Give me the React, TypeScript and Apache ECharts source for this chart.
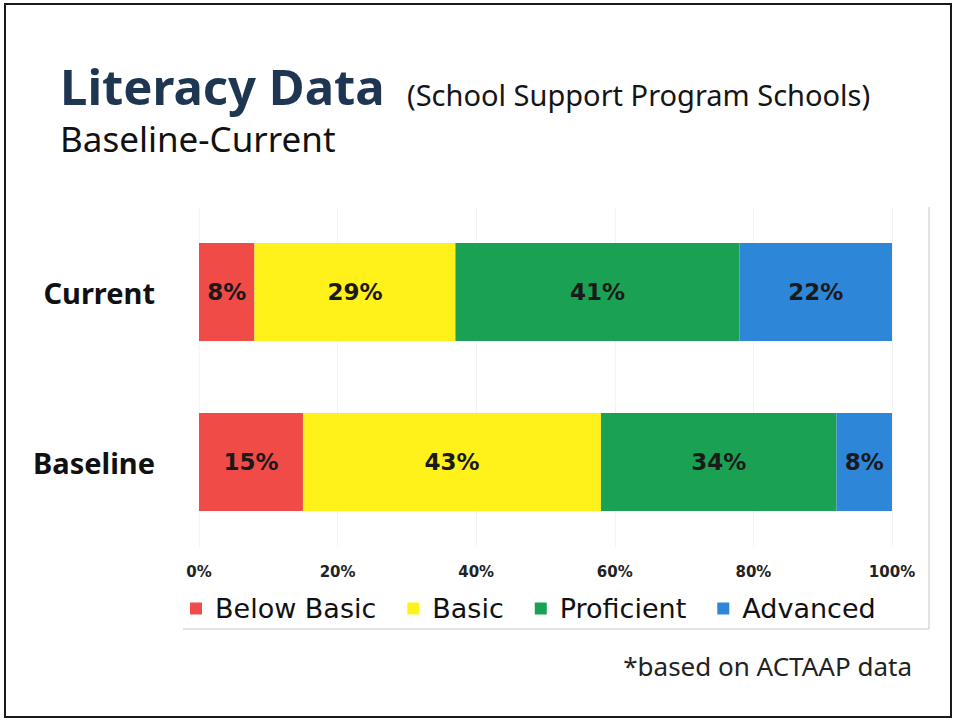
import React, { useEffect, useRef } from "react";
import * as echarts from "echarts";

const categories = ["Baseline", "Current"];
const seriesNames = ["Below Basic", "Basic", "Proficient", "Advanced"];
const belowBasic = [15, 8];
const basic = [43, 29];
const proficient = [34, 41];
const advanced = [8, 22];
const xTicks = [0, 20, 40, 60, 80, 100];

const colors = ["#f04b46", "#fff21a", "#1ba153", "#2e86d8"];

export default function App() {
  const ref = useRef<HTMLDivElement>(null);
  useEffect(() => {
    if (!ref.current) return;
    const chart = echarts.init(ref.current, null, { renderer: "svg" });
    const values = [belowBasic, basic, proficient, advanced];
    const labelFont = "DejaVu Sans";
    chart.setOption({
      animation: false,
      backgroundColor: "#ffffff",
      grid: { left: 199, right: 66, top: 207, bottom: 174 },
      xAxis: {
        type: "value",
        min: xTicks[0],
        max: xTicks[xTicks.length - 1],
        interval: 20,
        axisLine: { show: false },
        axisTick: { show: false },
        splitLine: { show: true, lineStyle: { color: "#f3f3f3" } },
        axisLabel: {
          formatter: "{value}%",
          fontFamily: labelFont,
          fontWeight: "bold",
          fontSize: 15,
          color: "#222",
          margin: 17,
        },
      },
      yAxis: {
        type: "category",
        data: categories,
        axisLine: { show: false },
        axisTick: { show: false },
        axisLabel: {
          fontFamily: "Noto Sans",
          fontWeight: "bold",
          fontSize: 29,
          color: "#111",
          margin: 44,
        },
      },
      legend: {
        left: 185,
        top: 590,
        itemWidth: 12,
        itemHeight: 12,
        itemGap: 31,
        icon: "rect",
        data: seriesNames,
        textStyle: { fontFamily: labelFont, fontSize: 27, color: "#111", padding: [0, 0, 0, 8] },
      },
      series: seriesNames.map((name, i) => ({
        name,
        type: "bar",
        stack: "total",
        barWidth: 98,
        data: values[i],
        itemStyle: { color: colors[i] },
        label: {
          show: true,
          position: "inside",
          formatter: "{c}%",
          fontFamily: labelFont,
          fontWeight: "bold",
          fontSize: 23,
          color: "#1a1a1a",
        },
      })),
      graphic: [
        {
          type: "rect",
          shape: { x: 5, y: 4, width: 946, height: 713 },
          style: { fill: "none", stroke: "#1a1a1a", lineWidth: 2 },
        },
        {
          type: "polyline",
          shape: { points: [[183, 629], [929, 629], [929, 207]] },
          style: { fill: "none", stroke: "#c8c8c8", lineWidth: 1 },
        },
        {
          type: "text",
          x: 60,
          y: 86,
          style: {
            text: "Literacy Data",
            font: "bold 49px 'Noto Sans'",
            lineHeight: 44,
            fill: "#1f3652",
            verticalAlign: "middle",
          },
        },
        {
          type: "text",
          x: 407,
          y: 94,
          style: {
            text: "(School Support Program Schools)",
            font: "29px 'Noto Sans'",
            lineHeight: 30,
            fill: "#151515",
            verticalAlign: "middle",
          },
        },
        {
          type: "text",
          x: 60,
          y: 138,
          style: {
            text: "Baseline-Current",
            font: "35px 'Noto Sans'",
            lineHeight: 32,
            fill: "#111",
            verticalAlign: "middle",
          },
        },
        {
          type: "text",
          x: 912,
          y: 666,
          style: {
            text: "*based on ACTAAP data",
            font: "26px 'Noto Sans'",
            fill: "#222",
            align: "right",
            verticalAlign: "middle",
          },
        },
      ],
    });
    return () => chart.dispose();
  }, []);
  return (
    <div
      ref={ref}
      style={{ position: "fixed", left: 0, top: 0, width: 958, height: 721 }}
    />
  );
}
